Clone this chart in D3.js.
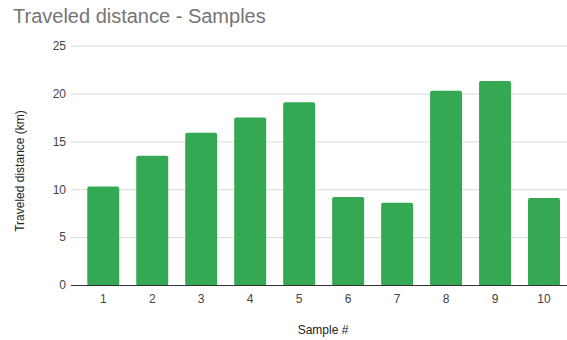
<!DOCTYPE html>
<html>
<head>
<meta charset="utf-8">
<script src="https://cdn.jsdelivr.net/npm/d3@7"></script>
<style>
  html, body { margin: 0; padding: 0; background: #fff; }
  svg { display: block; font-family: Arial, "Liberation Sans", sans-serif; }
</style>
</head>
<body>
<svg id="chart" width="567" height="340"></svg>
<script>
// Traveled distance per sample (km)
const samples = ["1", "2", "3", "4", "5", "6", "7", "8", "9", "10"];
const distances = [10.3, 13.5, 15.9, 17.5, 19.1, 9.2, 8.6, 20.3, 21.3, 9.1];
const yTicks = [0, 5, 10, 15, 20, 25];

const svg = d3.select("#chart");
const W = 567, H = 340;
const plot = { left: 71, right: 567, top: 45.7, bottom: 285 };

const x = d3.scaleBand()
  .domain(samples)
  .range([78.8, 568.5])
  .paddingInner(0.347)
  .paddingOuter(0.173);

const y = d3.scaleLinear()
  .domain([0, 25])
  .range([plot.bottom, plot.top]);

// Title
svg.append("text")
  .attr("x", 13)
  .attr("y", 23)
  .attr("font-size", 20)
  .attr("fill", "#757575")
  .text("Traveled distance - Samples");

// Horizontal gridlines with tick labels
const yAxis = d3.axisLeft(y).tickValues(yTicks).tickSize(0).tickPadding(0);
const gy = svg.append("g").attr("transform", `translate(${plot.left},0)`).call(yAxis);
gy.select(".domain").remove();
gy.selectAll(".tick text")
  .attr("x", -5)
  .attr("font-size", 12)
  .attr("fill", "#444")
  .attr("font-family", null);
gy.selectAll(".tick line")
  .attr("x2", plot.right - plot.left)
  .attr("stroke", d => d === 0 ? "none" : "#dadada")
  .attr("stroke-width", 1);

// Bars
svg.append("g")
  .selectAll("rect")
  .data(distances)
  .join("rect")
  .attr("x", (d, i) => x(samples[i]))
  .attr("y", d => y(d))
  .attr("width", x.bandwidth())
  .attr("height", d => y(0) - y(d) + 1)
  .attr("rx", 2)
  .attr("fill", "#34a853");

// Baseline and category labels
const xAxis = d3.axisBottom(x).tickSize(0).tickPadding(0);
const gx = svg.append("g").attr("transform", `translate(0,${plot.bottom})`).call(xAxis);
gx.select(".domain").remove();
gx.selectAll(".tick text")
  .attr("y", 9)
  .attr("dy", "0.71em")
  .attr("font-size", 12)
  .attr("fill", "#444")
  .attr("font-family", null);

svg.append("line")
  .attr("x1", plot.left)
  .attr("x2", plot.right)
  .attr("y1", plot.bottom + 0.5)
  .attr("y2", plot.bottom + 0.5)
  .attr("stroke", "#333")
  .attr("stroke-width", 1);

// Axis titles
svg.append("text")
  .attr("x", 323)
  .attr("y", 334)
  .attr("text-anchor", "middle")
  .attr("font-size", 12)
  .attr("fill", "#222")
  .text("Sample #");

svg.append("text")
  .attr("transform", "translate(24,171) rotate(-90)")
  .attr("text-anchor", "middle")
  .attr("font-size", 12)
  .attr("fill", "#222")
  .text("Traveled distance (km)");
</script>
</body>
</html>
